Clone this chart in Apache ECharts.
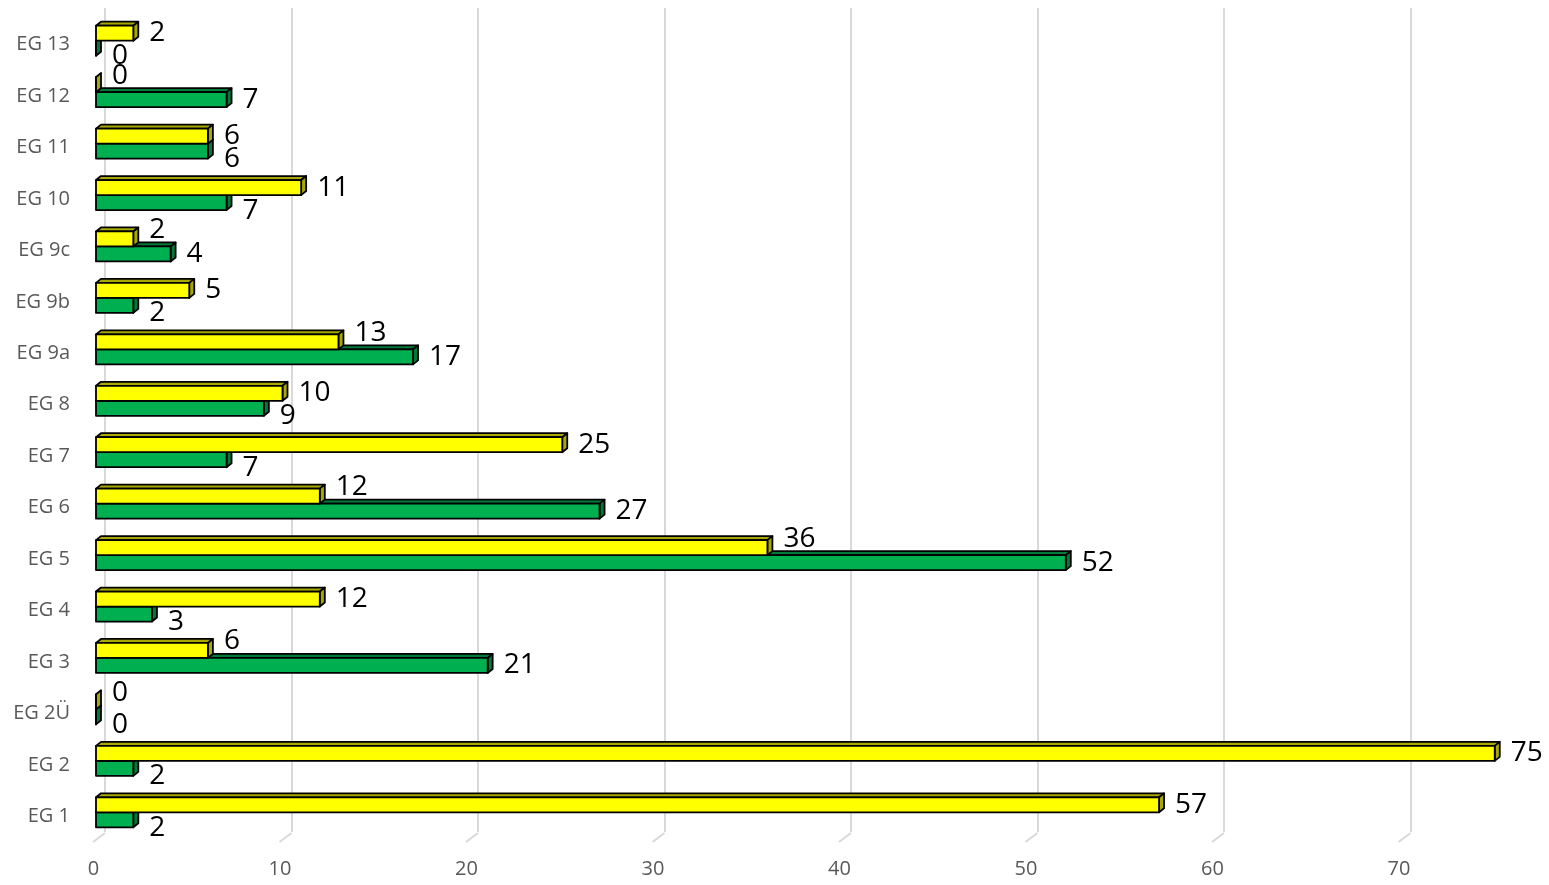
<!DOCTYPE html>
<html>
<head>
<meta charset="utf-8">
<script src="https://cdn.jsdelivr.net/npm/echarts@6/dist/echarts.min.js"></script>
<style>
  html, body { margin: 0; padding: 0; background: #fff; overflow: hidden; }
  /* chart is wider than the window: the axis runs on to 80, past the right edge */
  #chart { width: 1600px; height: 885px; }
</style>
</head>
<body>
<div id="chart"></div>
<script>
// categories bottom -> top
var categories = ['EG 1', 'EG 2', 'EG 2Ü', 'EG 3', 'EG 4', 'EG 5', 'EG 6', 'EG 7', 'EG 8', 'EG 9a', 'EG 9b', 'EG 9c', 'EG 10', 'EG 11', 'EG 12', 'EG 13'];
var yellowValues = [57, 75, 0, 6, 12, 36, 12, 25, 10, 13, 5, 2, 11, 6, 0, 2];
var greenValues = [2, 2, 0, 21, 3, 52, 27, 7, 9, 17, 2, 4, 7, 6, 7, 0];
var xTicks = [0, 10, 20, 30, 40, 50, 60, 70];

var DX = 5, DY = 4;

function makeBar(isYellow) {
  var front = isYellow ? '#ffff00' : '#00b050';
  var shade = isYellow ? '#a8a800' : '#007a3a';
  return function (params, api) {
    var v = api.value(0);
    var cat = api.value(1);
    var other = api.value(2);
    var start = api.coord([0, cat]);
    var end = api.coord([v, cat]);
    var h = 15;
    var x0 = start[0], x1 = end[0];
    var yTop = isYellow ? start[1] - h : start[1];
    var yBot = yTop + h;
    var line = { stroke: '#000', lineWidth: 1.8, lineJoin: 'round' };
    // labels step aside when the neighbouring bar is in the way
    var off = 0;
    if (isYellow) {
      if (other > v || v === 0) off = -9;
    } else {
      if (other >= v) off = 8;
    }
    return {
      type: 'group',
      children: [
        {
          type: 'polygon',
          shape: { points: [[x0, yTop], [x0 + DX, yTop - DY], [x1 + DX, yTop - DY], [x1, yTop]] },
          style: Object.assign({ fill: shade }, line)
        },
        {
          type: 'polygon',
          shape: { points: [[x1, yTop], [x1 + DX, yTop - DY], [x1 + DX, yBot - DY], [x1, yBot]] },
          style: Object.assign({ fill: shade }, line)
        },
        {
          type: 'rect',
          shape: { x: x0, y: yTop, width: x1 - x0, height: h },
          style: Object.assign({ fill: front }, line)
        },
        {
          type: 'text',
          x: x1 + DX + 11,
          y: yTop + h / 2 + off,
          style: {
            text: String(v),
            fill: '#000',
            fontSize: 28,
            fontFamily: 'Open Sans',
            align: 'left',
            verticalAlign: 'middle'
          }
        }
      ]
    };
  };
}

var yellowData = [], greenData = [];
for (var i = 0; i < categories.length; i++) {
  yellowData.push([yellowValues[i], i, greenValues[i]]);
  greenData.push([greenValues[i], i, yellowValues[i]]);
}

var myChart = echarts.init(document.getElementById('chart'));
var option = {
  backgroundColor: '#fff',
  animation: false,
  grid: [
    { left: 96, right: 12, top: 15, bottom: 47 },
    { left: 105, right: 3, top: 8, bottom: 53 }
  ],
  xAxis: [
    {
      gridIndex: 0, type: 'value', min: 0, max: 80, interval: 10,
      axisLine: { show: false }, axisTick: { show: false },
      splitLine: { show: false },
      axisLabel: { color: '#595959', fontSize: 20, fontFamily: 'Open Sans', margin: 21, padding: [0, 5, 0, 0] }
    },
    {
      gridIndex: 1, type: 'value', min: 0, max: 80, interval: 10,
      axisLine: { show: false }, axisTick: { show: false },
      axisLabel: { show: false },
      splitLine: { show: true, lineStyle: { color: '#d9d9d9', width: 2 } }
    }
  ],
  yAxis: [
    {
      gridIndex: 0, type: 'category', data: categories,
      axisLine: { show: false }, axisTick: { show: false },
      axisLabel: {
        margin: 26,
        formatter: function (v) { return '{c|' + v + '}'; },
        rich: {
          c: { color: '#595959', fontSize: 20, fontFamily: 'Open Sans', padding: [8, 0, 0, 0] }
        }
      }
    },
    {
      gridIndex: 1, type: 'category', data: categories, show: false
    }
  ],
  series: [
    {
      // floor edges of the gridlines
      type: 'custom', xAxisIndex: 0, yAxisIndex: 0, silent: true,
      data: xTicks.map(function (t) { return [t, 0]; }),
      renderItem: function (params, api) {
        var p = api.coord([api.value(0), 0]);
        var bottom = params.coordSys.y + params.coordSys.height;
        return {
          type: 'line',
          shape: { x1: p[0] + 9, y1: bottom - 5, x2: p[0] - 3, y2: bottom + 4 },
          style: { stroke: '#d9d9d9', lineWidth: 2 }
        };
      }
    },
    {
      type: 'custom', xAxisIndex: 0, yAxisIndex: 0,
      renderItem: makeBar(false),
      encode: { x: 0, y: 1 },
      data: greenData
    },
    {
      type: 'custom', xAxisIndex: 0, yAxisIndex: 0,
      renderItem: makeBar(true),
      encode: { x: 0, y: 1 },
      data: yellowData
    }
  ]
};
myChart.setOption(option);
window.addEventListener('resize', function () {
  myChart.resize();
});
</script>
</body>
</html>
